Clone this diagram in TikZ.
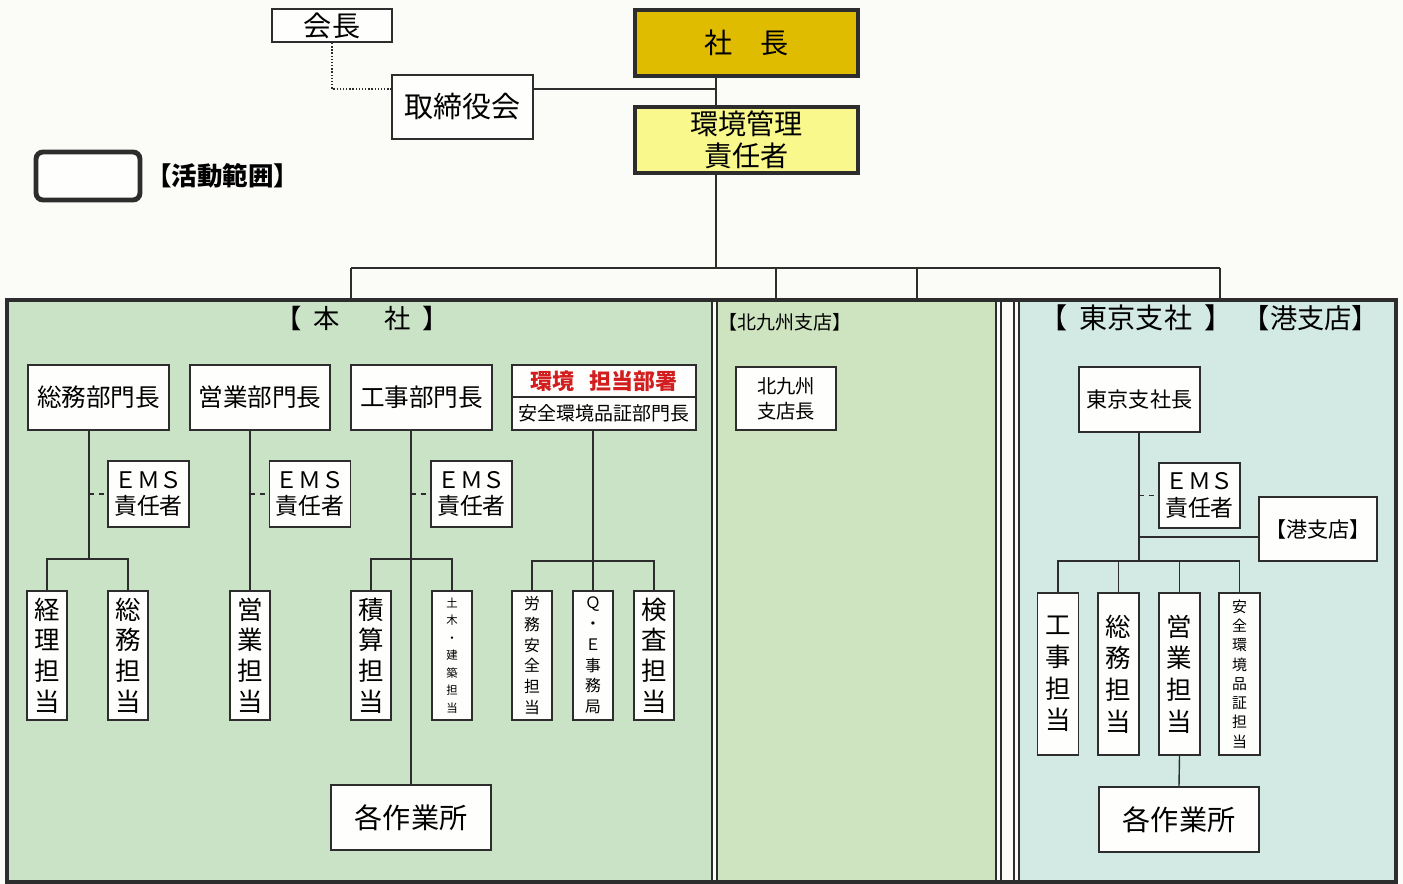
\documentclass[tikz,border=0pt]{standalone}
\usepackage{fontspec}
\setmainfont{Noto Sans CJK JP}
\definecolor{paper}{RGB}{251,251,248}
\definecolor{boxwhite}{RGB}{254,254,252}
\definecolor{inkgray}{RGB}{45,45,45}
\definecolor{shachoyellow}{RGB}{224,188,0}
\definecolor{kanriyellow}{RGB}{248,248,140}
\definecolor{honshagreen}{RGB}{202,227,198}
\definecolor{kyushugreen}{RGB}{206,228,192}
\definecolor{tokyoblue}{RGB}{210,234,227}
\definecolor{kankyored}{RGB}{210,30,30}

\begin{document}
\begin{tikzpicture}[x=0.02cm,y=-0.02cm,inkgray,
    box/.style={draw,fill=boxwhite,line width=1.1pt,inner sep=0pt,align=center,text=black},
    chief/.style={box,line width=2.6pt,minimum width=4.46cm,minimum height=1.32cm},
    ems/.style={box,minimum width=1.62cm,minimum height=1.32cm,font=\fontsize{13}{15}\selectfont},
    tate/.style={box,minimum width=0.8cm,minimum height=2.58cm,font=\fontsize{14.5}{17.5}\selectfont},
    tate small/.style={tate,font=\fontsize{9}{11.8}\selectfont},
    tokyo tate/.style={box,minimum width=0.82cm,minimum height=3.24cm,font=\fontsize{14.5}{18}\selectfont},
    bucho/.style={box,minimum width=2.82cm,minimum height=1.3cm,font=\fontsize{14}{16}\selectfont},
    sagyo/.style={box,minimum width=3.2cm,minimum height=1.3cm,font=\fontsize{16}{18}\selectfont},
    title/.style={inner sep=0pt,text=black},
    link/.style={line width=0.8pt},
    ems link/.style={link,dash pattern=on 3pt off 2.5pt}
]
\fill[paper] (0,0) rectangle (1403,884);
\useasboundingbox (0,0) rectangle (1403,884);

% panels
\fill[honshagreen] (7,300) rectangle (712,882);
\fill[kyushugreen] (717,300) rectangle (996,882);
\fill[tokyoblue] (1019,300) rectangle (1396,882);
\draw[line width=1.1pt] (712,300) -- (712,882) (717,300) -- (717,882)
    (996,300) -- (996,882) (1001,300) -- (1001,882)
    (1014,300) -- (1014,882) (1019,300) -- (1019,882);
\node[draw,line width=2.4pt,inner sep=0pt,minimum width=27.78cm,minimum height=11.64cm] (frame) at (701.5,591) {};

% top
\node[box,minimum width=2.4cm,minimum height=0.66cm,font=\fontsize{16}{18}\selectfont] (kaicho) at (332,25.5) {会長};
\node[chief,fill=shachoyellow,font=\fontsize{16}{18}\selectfont] (shacho) at (746.5,43) {社\hspace{1em}長};
\node[chief,fill=kanriyellow,font=\fontsize{16}{18}\selectfont] (kanri) at (746.5,140) {環境管理\\責任者};
\node[box,minimum width=2.82cm,minimum height=1.28cm,font=\fontsize{16.5}{18}\selectfont] (torishimari) at (462.5,107) {取締役会};

\coordinate (trunk) at (716,268);
\draw[link] (shacho.south -| trunk) -- (kanri.north -| trunk);
\draw[link] (kanri.south -| trunk) -- (trunk);
\draw[link] ([yshift=0.36cm]torishimari.east) -- ([yshift=0.36cm]torishimari.east -| trunk);
\draw[link,densely dotted] (kaicho.south) |- ([yshift=0.36cm]torishimari.west);

\coordinate (barL) at (351,268);
\coordinate (barR) at (1220,268);
\draw[link] (barL) -- (barR);
\foreach \x [count=\i] in {351,776,917,1220} {
    \coordinate (drop\i) at (\x,268);
    \draw[link] (drop\i) -- (drop\i |- frame.north);
}

% legend
\node[draw,line width=2.8pt,rounded corners=4pt,fill=boxwhite,minimum width=2.08cm,minimum height=0.96cm] (legend) at (88,176) {};
\node[title,anchor=west,font=\fontsize{14.5}{16}\selectfont\bfseries] (legendtext) at (146,176) {【活動範囲】};

% titles
\node[title,font=\fontsize{15}{17}\selectfont] (honshatitle) at (362,318) {【\hspace{0.45em}本\hspace{1.7em}社\hspace{0.45em}】};
\node[title,anchor=west,font=\fontsize{10.8}{12}\selectfont] (kyushutitle) at (718,322) {【北九州支店】};
\node[title,font=\fontsize{16}{18}\selectfont] (tokyotitle) at (1136,318) {【\hspace{0.45em}東京支社\hspace{0.45em}】};
\node[title,font=\fontsize{15.5}{17}\selectfont] (minatotitle) at (1311,318) {【港支店】};

% honsha
\node[bucho] (somu) at (98.5,397.5) {総務部門長};
\node[bucho,minimum width=2.8cm] (eigyo) at (260,397.5) {営業部門長};
\node[bucho] (koji) at (421.5,397.5) {工事部門長};
\node[box,minimum width=3.68cm,minimum height=0.64cm,font=\fontsize{12.5}{14}\selectfont\bfseries,text=kankyored] (kantop) at (604,381) {環境\hspace{0.7em}担当部署};
\node[box,minimum width=3.68cm,minimum height=0.66cm,font=\fontsize{10.8}{12}\selectfont] (kanbot) at (604,413.5) {安全環境品証部門長};

\node[ems] (ems1) at (148.5,494) {ＥＭＳ\\責任者};
\node[ems] (ems2) at (310,494) {ＥＭＳ\\責任者};
\node[ems] (ems3) at (471.5,494) {ＥＭＳ\\責任者};

\node[tate] (keiri) at (47,655.5) {経\\理\\担\\当};
\node[tate] (somut) at (128,655.5) {総\\務\\担\\当};
\node[tate] (eigyot) at (250,655.5) {営\\業\\担\\当};
\node[tate] (sekisan) at (371,655.5) {積\\算\\担\\当};
\node[tate,font=\fontsize{6.5}{10}\selectfont] (doboku) at (452,655.5) {土\\木\\・\\建\\築\\担\\当};
\node[tate small] (roumu) at (532,655.5) {労\\務\\安\\全\\担\\当};
\node[tate small] (qe) at (593,655.5) {Ｑ\\・\\Ｅ\\事\\務\\局};
\node[tate] (kensa) at (654,655.5) {検\\査\\担\\当};
\node[sagyo] (sagyo1) at (411,817.5) {各作業所};

\coordinate (j1) at (89,559);
\coordinate (j3) at (411,559);
\coordinate (j4) at (593,561);
\draw[link] (j1 |- somu.south) -- (j1);
\draw[link] (keiri.north) |- (j1) -| (somut.north);
\draw[ems link] (j1 |- ems1.west) -- (ems1.west);
\draw[link] (eigyot.north |- eigyo.south) -- (eigyot.north);
\draw[ems link] (eigyot.north |- ems2.west) -- (ems2.west);
\draw[link] (sagyo1.north |- koji.south) -- (sagyo1.north);
\draw[link] (sekisan.north) |- (j3) -| (doboku.north);
\draw[ems link] (j3 |- ems3.west) -- (ems3.west);
\draw[link] (qe.north |- kanbot.south) -- (qe.north);
\draw[link] (roumu.north) |- (j4) -| (kensa.north);

% kitakyushu
\node[box,minimum width=2cm,minimum height=1.26cm,font=\fontsize{11}{14}\selectfont] (kyushucho) at (786,398.5) {北九州\\支店長};

% tokyo
\node[box,minimum width=2.42cm,minimum height=1.3cm,font=\fontsize{12}{14}\selectfont] (tokyocho) at (1139.5,399.5) {東京支社長};
\node[ems,minimum height=1.3cm] (ems4) at (1199.5,495.5) {ＥＭＳ\\責任者};
\node[box,minimum width=2.36cm,minimum height=1.28cm,font=\fontsize{12}{14}\selectfont] (minato) at (1318,529) {【港支店】};
\node[tokyo tate] (tkoji) at (1058,674) {工\\事\\担\\当};
\node[tokyo tate] (tsomu) at (1118.5,674) {総\\務\\担\\当};
\node[tokyo tate] (teigyo) at (1179.5,674) {営\\業\\担\\当};
\node[tokyo tate,font=\fontsize{8.5}{11}\selectfont] (tanzen) at (1239.5,674) {安\\全\\環\\境\\品\\証\\担\\当};
\node[sagyo] (sagyo2) at (1179,819.5) {各作業所};

\coordinate (tj) at (1139,561);
\draw[link] (tj |- tokyocho.south) -- (tj);
\draw[ems link] (tj |- ems4.west) -- (ems4.west);
\draw[link] ([yshift=-0.16cm]minato.west) -- ([yshift=-0.16cm]minato.west -| tj);
\draw[link] (tkoji.north) |- (tj) -| (tanzen.north);
\draw[link] (tsomu.north) -- (tsomu.north |- tj);
\draw[link] (teigyo.north) -- (teigyo.north |- tj);
\draw[link] (teigyo.south) -- (sagyo2.north);
\end{tikzpicture}
\end{document}
